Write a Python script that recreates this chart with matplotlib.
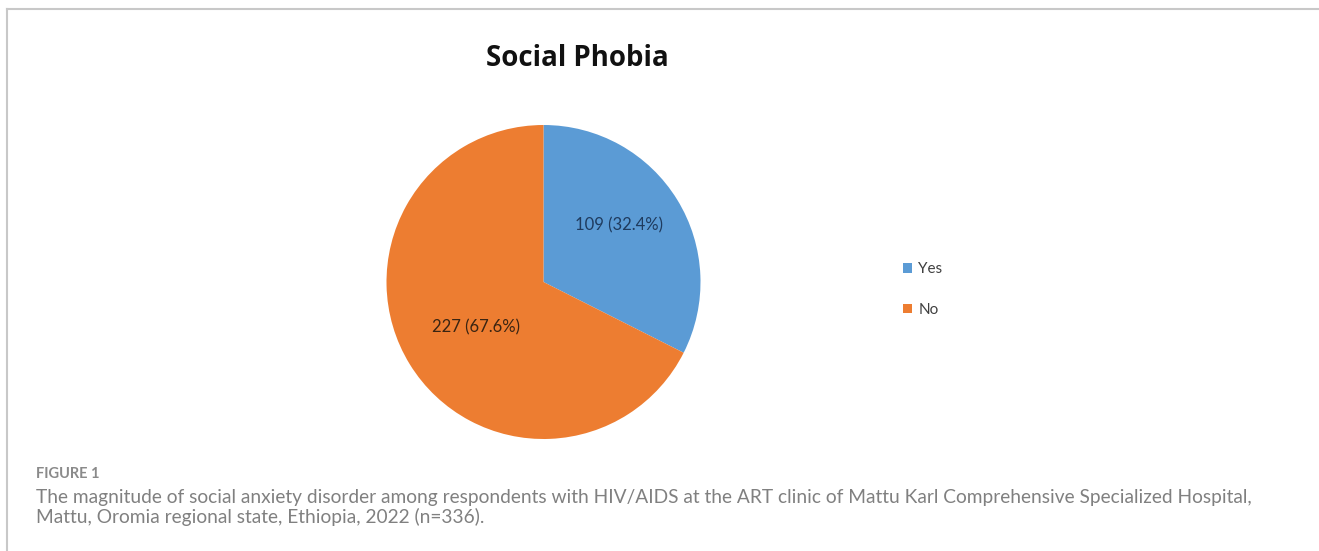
import matplotlib
matplotlib.use("Agg")
import matplotlib.pyplot as plt
from matplotlib.lines import Line2D

categories = ["Yes", "No"]
counts = [109, 227]
percents = [32.4, 67.6]
colors = ["#5B9BD5", "#ED7D31"]
label_colors = ["#1F3B5E", "#3A2412"]
title = "Social Phobia"
fig_label = "FIGURE 1"
caption = ("The magnitude of social anxiety disorder among respondents with HIV/AIDS at the ART clinic of Mattu Karl Comprehensive Specialized Hospital,\n"
           "Mattu, Oromia regional state, Ethiopia, 2022 (n=336).")

W, H = 1319, 551
fig = plt.figure(figsize=(W / 100, H / 100), dpi=100)
fig.patch.set_facecolor("white")

# frame lines
fig.add_artist(Line2D([6.5 / W, 6.5 / W], [0, 1 - 9 / H], color="#c8c8c8", lw=1.5))
fig.add_artist(Line2D([6.5 / W, 1], [1 - 9 / H, 1 - 9 / H], color="#c8c8c8", lw=1.5))

cx, cy, r = 543.5, 282, 157
ax = fig.add_axes([(cx - r) / W, (H - cy - r) / H, 2 * r / W, 2 * r / H])
wedges, _ = ax.pie(counts, colors=colors, startangle=90, counterclock=False,
                   radius=1, wedgeprops=dict(linewidth=0))
ax.set_xlim(-1, 1)
ax.set_ylim(-1, 1)
ax.set_aspect("auto")
ax.axis("off")

label_pos = [(0.481, 0.363), (-0.43, -0.287)]
for (x, y), c, p, lc in zip(label_pos, counts, percents, label_colors):
    ax.text(x, y, f"{c} ({p}%)", ha="center", va="center", fontsize=12,
            family="Lato", color=lc)

fig.text(577 / W, 1 - 58 / H, title, ha="center", va="center", fontsize=19.9,
         fontweight="bold", family="Open Sans", color="#111111")

leg = fig.legend(wedges, categories, loc="center left",
                 bbox_to_anchor=(903 / W, 1 - 289.5 / H), frameon=False,
                 handlelength=0.6, handleheight=0.6,
                 handletextpad=0.4, labelspacing=1.75, borderpad=0,
                 borderaxespad=0, prop={"family": "Lato", "size": 11})
for t in leg.get_texts():
    t.set_color("#404040")

fig.text(36 / W, 1 - 474 / H, fig_label, ha="left", va="center", fontsize=10.5,
         fontweight="bold", family="Lato", color="#8a8a8a")
fig.text(36 / W, 1 - 507.5 / H, caption, ha="left", va="center", fontsize=13.8,
         family="Lato", color="#808080", linespacing=1.1)

fig.savefig("out.png", dpi=100, facecolor="white")
